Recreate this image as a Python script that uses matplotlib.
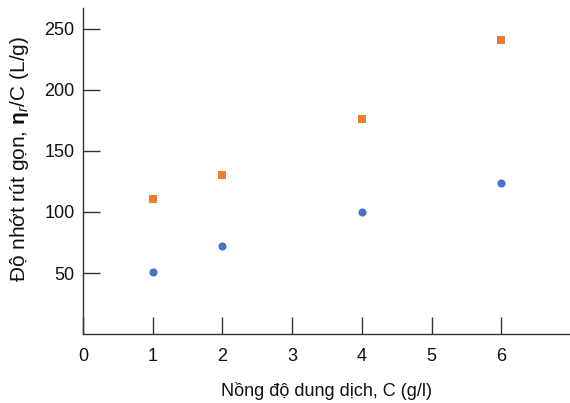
import numpy as np
import matplotlib.pyplot as plt

plt.rcParams['font.family'] = ['Liberation Sans', 'DejaVu Sans']
plt.rcParams['mathtext.fontset'] = 'custom'
plt.rcParams['mathtext.rm'] = 'Liberation Sans'
plt.rcParams['mathtext.bf'] = 'Liberation Sans:bold'
plt.rcParams['mathtext.it'] = 'Liberation Sans:italic'

# Data
conc = [1, 2, 4, 6]
series_orange = [111, 130, 176, 241]
series_blue = [51, 72, 100, 124]

fig = plt.figure(figsize=(5.70, 4.03), dpi=100)
ax = fig.add_axes([0.1456, 0.171, 0.856, 0.809])

ax.scatter(conc, series_orange, s=32, marker='s', color='#EE7D31', zorder=3,
           linewidths=0)
ax.scatter(conc, series_blue, s=34, marker='o', color='#4472C4', zorder=3,
           linewidths=0)

ax.set_xlim(0, 7)
ax.set_ylim(0, 267)
ax.set_xticks([0, 1, 2, 3, 4, 5, 6])
ax.set_yticks([50, 100, 150, 200, 250])

for s in ['top', 'right']:
    ax.spines[s].set_visible(False)
for s in ['left', 'bottom']:
    ax.spines[s].set_color('#333333')
    ax.spines[s].set_linewidth(1.0)

ax.tick_params(direction='in', length=12, width=1.0, color='#333333',
               labelsize=13, labelcolor='#111111')
ax.tick_params(axis='x', pad=10)
ax.tick_params(axis='y', pad=6)

ax.set_xlabel('Nồng độ dung dịch, C (g/l)', fontsize=13, color='#111111', labelpad=12)
ax.set_ylabel(r'Độ nhớt rút gọn, $\mathbf{\eta}_{r}$/C (L/g)', fontsize=15,
              color='#111111')
ax.yaxis.set_label_coords(-0.107, 0.537)

fig.savefig('out.png', dpi=100)
